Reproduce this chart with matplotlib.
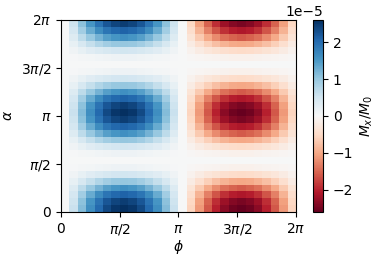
import matplotlib
matplotlib.use("Agg")
import matplotlib.pyplot as plt
import numpy as np

# profiles (value of each cell column / cell row, normalised)
phi_profile = [0.0, 0.22, 0.43, 0.62, 0.78, 0.90, 0.97, 1.0, 0.97, 0.90, 0.78, 0.62, 0.43, 0.22,
               0.0, -0.22, -0.43, -0.62, -0.78, -0.90, -0.97, -1.0, -0.97, -0.90, -0.78, -0.62, -0.43, -0.22]
alpha_profile = [1.0, 0.95, 0.81, 0.61, 0.39, 0.19, 0.05, 0.0, 0.05, 0.19, 0.39, 0.61, 0.81, 0.95,
                 1.0, 0.95, 0.81, 0.61, 0.39, 0.19, 0.05, 0.0, 0.05, 0.19, 0.39, 0.61, 0.81, 0.95]
amplitude = 2.6e-5

tick_pos = [0, np.pi / 2, np.pi, 3 * np.pi / 2, 2 * np.pi]
tick_labels = ["0", r"$\pi/2$", r"$\pi$", r"$3\pi/2$", r"$2\pi$"]

Mx = amplitude * np.outer(alpha_profile, phi_profile)
phi_edges = np.linspace(0, 2 * np.pi, len(phi_profile) + 1)
alpha_edges = np.linspace(0, 2 * np.pi, len(alpha_profile) + 1)

fig = plt.figure(figsize=(3.74, 2.58), dpi=100)
ax = fig.add_axes([0.1631, 0.1783, 0.6283, 0.7442])
cax = fig.add_axes([0.8369, 0.1783, 0.0267, 0.7442])

mesh = ax.pcolormesh(phi_edges, alpha_edges, Mx, cmap="RdBu", vmin=-amplitude, vmax=amplitude)
ax.set_xticks(tick_pos)
ax.set_xticklabels(tick_labels)
ax.set_yticks(tick_pos)
ax.set_yticklabels(tick_labels)
ax.set_xlabel(r"$\phi$", labelpad=1)
ax.set_ylabel(r"$\alpha$")

cb = fig.colorbar(mesh, cax=cax)
cb.set_label(r"$M_x/M_0$")

fig.savefig("out.png", dpi=100)
